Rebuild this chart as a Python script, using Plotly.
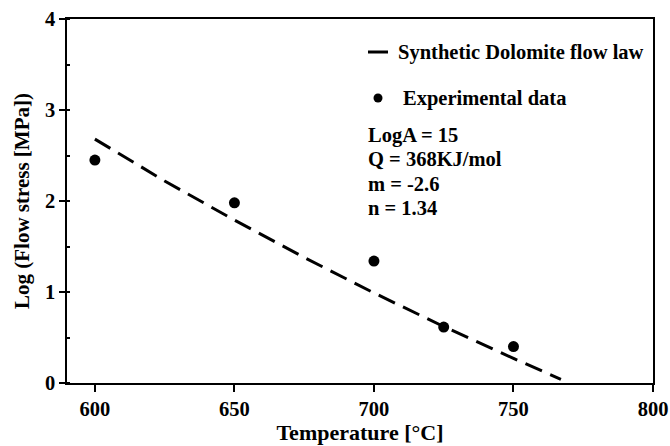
import plotly.graph_objects as go

# Experimental data
exp_temp = [600, 650, 700, 725, 750]
exp_logstress = [2.45, 1.98, 1.34, 0.615, 0.40]

# Synthetic dolomite flow law curve
law_temp = [600, 625, 650, 675, 700, 725, 750, 767]
law_logstress = [2.68, 2.22, 1.79, 1.38, 0.99, 0.62, 0.27, 0.04]

x_ticks = [600, 650, 700, 750, 800]
y_ticks = [0, 1, 2, 3, 4]
legend_labels = ["Synthetic Dolomite flow law", "Experimental data"]
param_lines = ["LogA = 15", "Q = 368KJ/mol", "m = -2.6", "n = 1.34"]

FONT = "Liberation Serif"
L, R, T, B = 67, 653, 19, 383
W, H = R - L, B - T


def px(x):
    return (x - L) / W


def py(y):
    return (B - y) / H


fig = go.Figure()
fig.add_trace(go.Scatter(x=law_temp, y=law_logstress, mode="lines",
                         line=dict(color="black", width=3, dash="18px,9px"),
                         showlegend=False))
fig.add_trace(go.Scatter(x=exp_temp, y=exp_logstress, mode="markers",
                         marker=dict(color="black", size=11),
                         showlegend=False))

# manual legend
fig.add_shape(type="line", xref="paper", yref="paper",
              x0=px(368), x1=px(388), y0=py(52), y1=py(52),
              line=dict(color="black", width=3))
fig.add_shape(type="circle", xref="paper", yref="paper",
              x0=px(373.5), x1=px(382.5), y0=py(102.5), y1=py(93.5),
              fillcolor="black", line=dict(color="black", width=0))
tf = dict(family=FONT, size=20.5, color="black")
fig.add_annotation(text="<b>%s</b>" % legend_labels[0], xref="paper", yref="paper",
                   x=px(396), y=py(52), xanchor="left", yanchor="middle",
                   showarrow=False, font=tf)
fig.add_annotation(text="<b>%s</b>" % legend_labels[1], xref="paper", yref="paper",
                   x=px(401), y=py(98), xanchor="left", yanchor="middle",
                   showarrow=False, font=tf)
for i, t in enumerate(param_lines):
    fig.add_annotation(text="<b>%s</b>" % t, xref="paper", yref="paper",
                       x=px(366), y=py(135 + 24.3 * i),
                       xanchor="left", yanchor="middle",
                       showarrow=False, font=tf)

axis_common = dict(showgrid=False, zeroline=False, showline=True, linecolor="black",
                   linewidth=1.5, mirror=True, ticks="outside", tickcolor="black",
                   tickwidth=1.5, automargin=False,
                   tickfont=dict(family=FONT, size=20.5, color="black"))

fig.update_xaxes(range=[590, 800], tickvals=x_ticks,
                 ticktext=["<b>%d</b>" % v for v in x_ticks], ticklen=7,
                 title=dict(text="<b>Temperature [°C]</b>", standoff=5,
                            font=dict(family=FONT, size=22, color="black")),
                 **axis_common)
fig.update_yaxes(range=[0, 4], tickvals=y_ticks,
                 ticktext=["<b>%d</b>" % v for v in y_ticks], ticklen=6,
                 minor=dict(dtick=0.5, ticks="inside", ticklen=3, tickcolor="black", tickwidth=1.5),
                 title=dict(text="<b>Log (Flow stress [MPa])</b>", standoff=10,
                            font=dict(family=FONT, size=21, color="black")),
                 **axis_common)

fig.update_layout(width=670, height=446, margin=dict(l=L, r=670 - R, t=T, b=446 - B),
                  plot_bgcolor="white", paper_bgcolor="white")

fig.write_html("out.html")
